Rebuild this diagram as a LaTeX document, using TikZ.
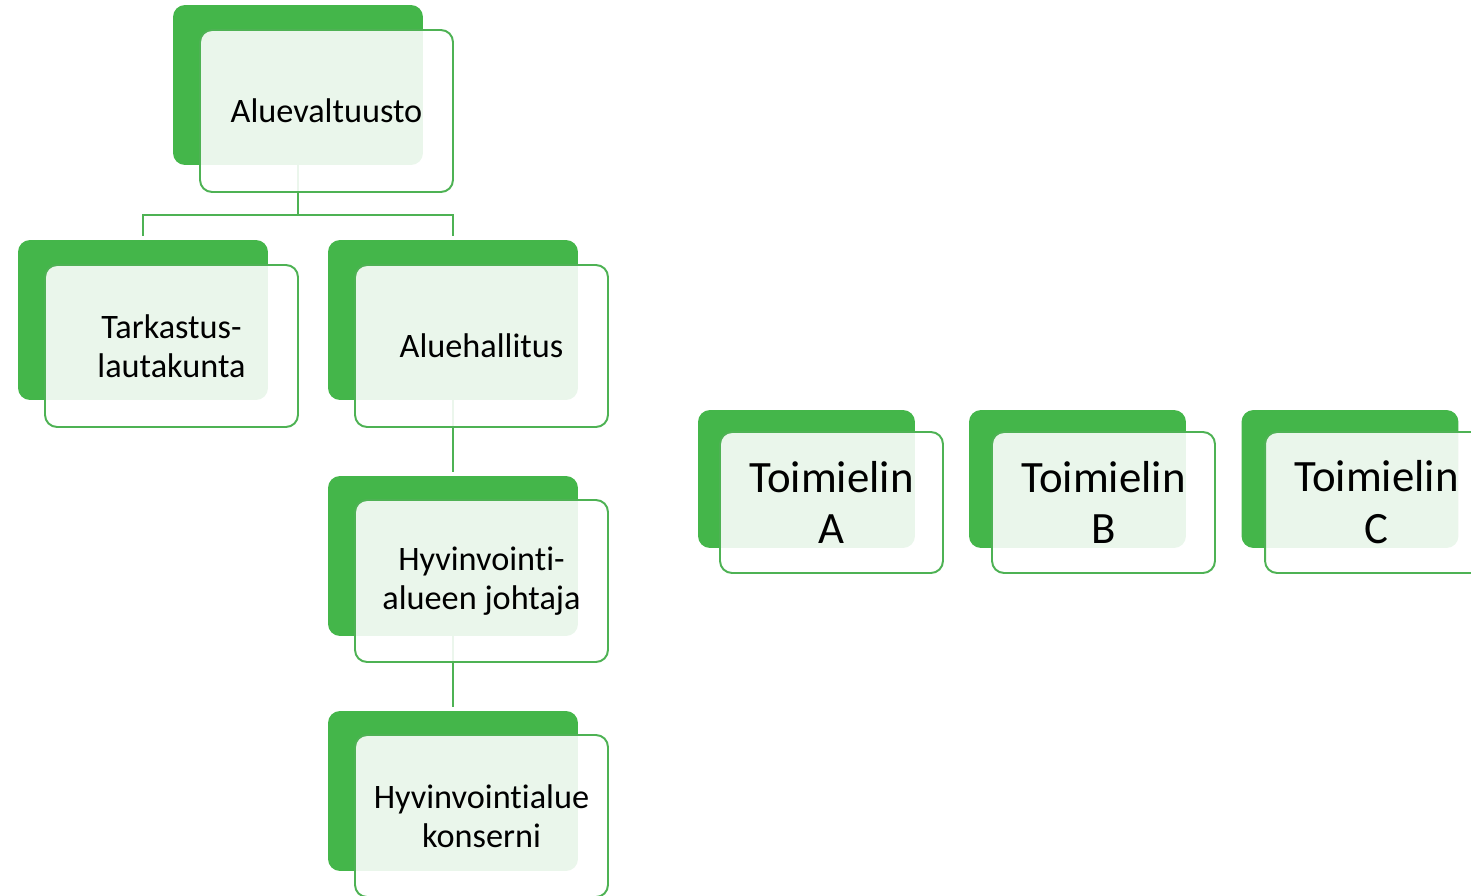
\documentclass[tikz,border=0pt]{standalone}
\usepackage{fontspec}
\setmainfont{Carlito}[Ligatures=NoCommon]
\usetikzlibrary{calc}
\definecolor{orggreen}{RGB}{68,182,74}
\definecolor{orgline}{RGB}{78,178,84}
\tikzset{
  backbox/.style={fill=orggreen, rounded corners=0.24cm, inner sep=0pt,
    minimum width=5cm, minimum height=3.2cm},
  frontbox/.style={draw=orgline, line width=1.1pt, fill=white, fill opacity=0.89,
    text opacity=1, rounded corners=0.24cm, inner sep=0pt, align=center,
    minimum width=5.06cm, minimum height=3.24cm, font=\fontsize{19.5}{22.5}\selectfont},
  smallback/.style={backbox, minimum width=4.34cm, minimum height=2.76cm},
  smallfront/.style={frontbox, minimum width=4.46cm, minimum height=2.82cm,
    font=\fontsize{25.5}{29.5}\selectfont},
  orglink/.style={draw=orgline, line width=1.1pt},
}
\begin{document}
\begin{tikzpicture}[x=0.02cm, y=-0.02cm]
			%%%%% START %%%%%
			\useasboundingbox (0,0) rectangle (1471,896);
			
			% left chart: back boxes
			\node[backbox] (valtB) at (298,85) {};
			\node[backbox] (tarkB) at (143,320) {};
			\node[backbox] (hallB) at (453,320) {};
			\node[backbox] (johtB) at (453,556) {};
			\node[backbox] (konsB) at (453,791) {};
			
			% connectors
			\draw[orglink] (valtB.south) -- ++(0,50) coordinate (split) -| ([yshift=2pt]tarkB.north);
			\draw[orglink] (split) -| ([yshift=2pt]hallB.north);
			\draw[orglink] (hallB.south) -- ([yshift=2pt]johtB.north);
			\draw[orglink] (johtB.south) -- ([yshift=2pt]konsB.north);
			
			% left chart: front boxes
			\node[frontbox] (valt) at (326.5,111) {Aluevaltuusto};
			\node[frontbox] (tark) at (171.5,346) {Tarkastus-\\lautakunta};
			\node[frontbox] (hall) at (481.5,346) {Aluehallitus};
			\node[frontbox] (joht) at (481.5,581) {Hyvinvointi-\\alueen johtaja};
			\node[frontbox] (kons) at (481.5,816) {Hyvinvointialue\\konserni};
			
			% right row: Toimielin A, B, C
			\node[smallback] (toimAB) at (806.5,479) {};
			\node[smallfront] (toimA) at (831.5,502.5) {Toimielin\\A};
			
			\node[smallback] (toimBB) at (1077.5,479) {};
			\node[smallfront] (toimB) at (1103.5,502.5) {Toimielin\\B};
			
			\node[smallback] (toimCB) at (1350,479) {};
			\node[smallfront] (toimC) at (1376.5,502.5) {Toimielin\\C};
			
			%%%%% END %%%%%
		\end{tikzpicture}
\end{document}
